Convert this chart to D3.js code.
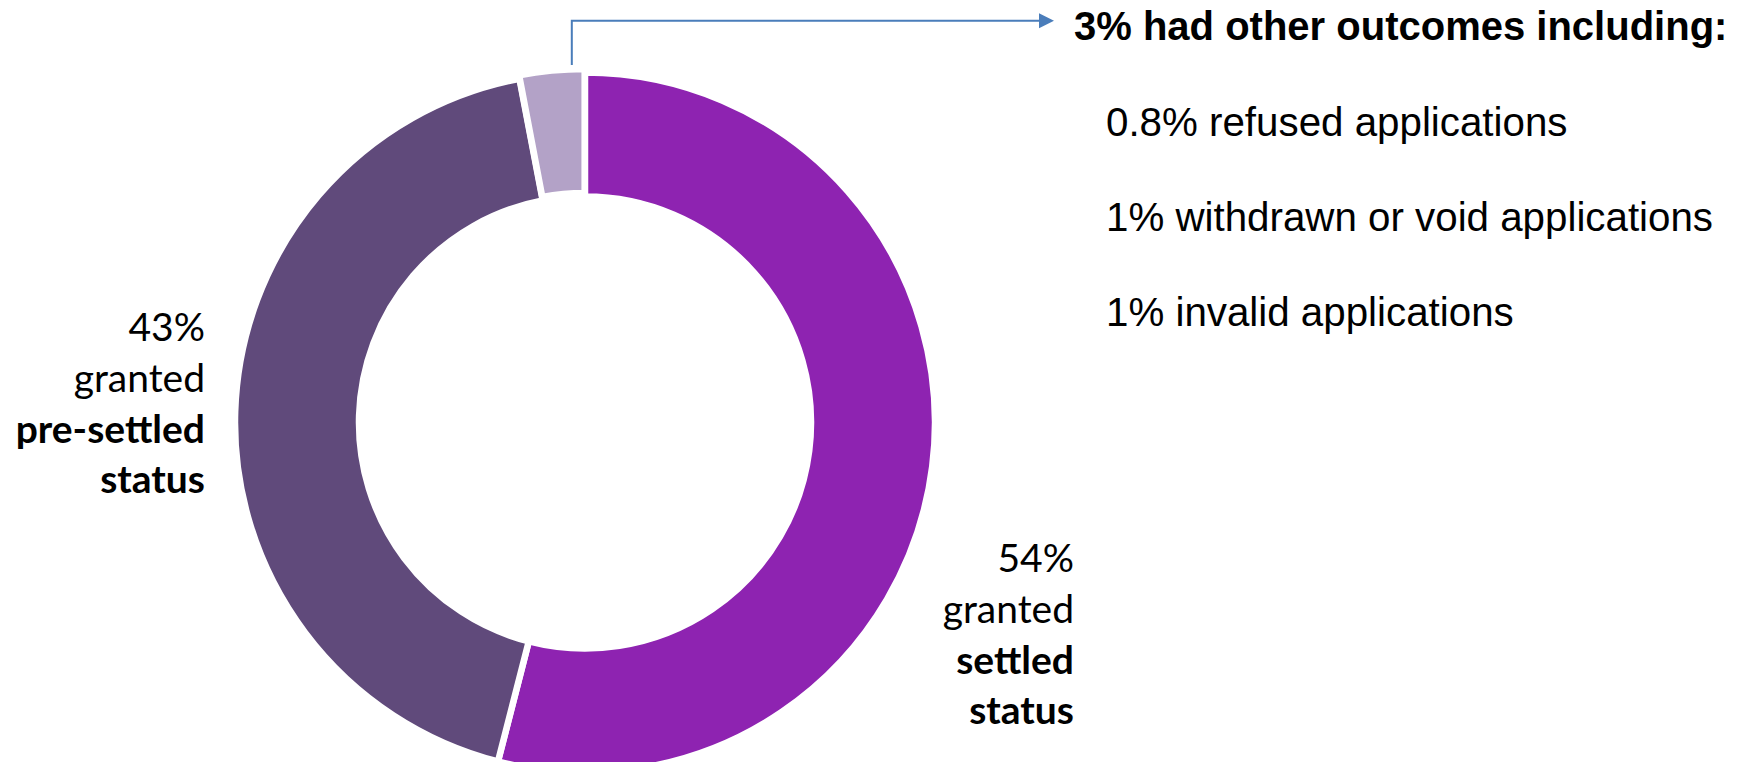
<!DOCTYPE html>
<html>
<head>
<meta charset="utf-8">
<script src="https://cdnjs.cloudflare.com/ajax/libs/d3/7.8.5/d3.min.js"></script>
<style>
  body { margin: 0; background: #fff; }
  svg { display: block; }
</style>
</head>
<body>
<div id="chart"></div>
<script>
// Data
let outcomes = ["settled", "pre-settled", "other"];
let shares = [54, 43, 3];
let otherShares = ["0.8%", "1%", "1%"];
let otherLabels = ["refused applications", "withdrawn or void applications", "invalid applications"];
let otherTitle = "had other outcomes including:";

let width = 1742;
let height = 762;

let center = {"x": 585, "y": 422.5};
let outerR = 350;
let innerR = 226;

let svg = d3.select("#chart")
            .append("svg")
            .attr("width", width)
            .attr("height", height);

let colorScale = d3.scaleOrdinal()
                   .domain(outcomes)
                   .range(["#8E23B1", "#604A7B", "#B3A2C7"]);

let pie = d3.pie()
            .sort(null)
            .value(d => d.value);

let arc = d3.arc()
            .innerRadius(innerR)
            .outerRadius(outerR);

let slices = pie(outcomes.map((k, i) => ({"key": k, "value": shares[i]})));

let donut = svg.append("g")
               .attr("transform", `translate(${center.x},${center.y})`);

// small slice is pulled out a few pixels
let explode = d => d.data.key == "other" ? 3.5 : 0;

donut.selectAll("path")
     .data(slices)
     .enter()
     .append("path")
     .attr("d", arc)
     .attr("transform", d => {
        let mid = (d.startAngle + d.endAngle) / 2;
        return `translate(${Math.sin(mid) * explode(d)},${-Math.cos(mid) * explode(d)})`;
     })
     .style("fill", d => colorScale(d.data.key))
     .style("stroke", "#fff")
     .style("stroke-width", 6.5);

// Slice labels
let labelFont = "Lato, 'Open Sans', sans-serif";
let lineGap = 50.8;

function addLabel(x, y, lines) {
  let t = svg.append("text")
             .attr("text-anchor", "end")
             .style("font-family", labelFont)
             .style("font-size", "39px")
             .style("fill", "#000");
  lines.forEach((l, i) => {
    t.append("tspan")
     .attr("x", x)
     .attr("y", y + i * lineGap)
     .style("font-weight", l.bold ? "bold" : "normal")
     .text(l.text);
  });
}

addLabel(205, 341, [
  {"text": shares[1] + "%"},
  {"text": "granted"},
  {"text": "pre-settled", "bold": true},
  {"text": "status", "bold": true}
]);

addLabel(1074, 572, [
  {"text": shares[0] + "%"},
  {"text": "granted"},
  {"text": "settled", "bold": true},
  {"text": "status", "bold": true}
]);

// Connector from the small slice to the note
let other = slices[2];
let anchorAngle = other.endAngle - 0.2 * (other.endAngle - other.startAngle);
let lineX = center.x + Math.sin(anchorAngle) * outerR;
let lineY = 20.7;
let arrowEnd = 1054;
let arrowColor = "#4A7DBA";

svg.append("path")
   .attr("d", `M${lineX},65 V${lineY} H${arrowEnd - 12}`)
   .style("fill", "none")
   .style("stroke", arrowColor)
   .style("stroke-width", 2);

svg.append("path")
   .attr("d", `M${arrowEnd - 15},${lineY - 7.5} L${arrowEnd},${lineY} L${arrowEnd - 15},${lineY + 7.5} Z`)
   .style("fill", arrowColor);

// Note on the other outcomes
svg.append("text")
   .attr("x", 1074)
   .attr("y", 39.5)
   .style("font-family", "'Liberation Sans', Arial, sans-serif")
   .style("font-weight", "bold")
   .style("font-size", "40px")
   .style("fill", "#000")
   .text(`${shares[2]}% ${otherTitle}`);

svg.append("g")
   .selectAll("text")
   .data(otherLabels)
   .enter()
   .append("text")
   .attr("x", 1106)
   .attr("y", (d, i) => 136 + i * 95)
   .style("font-family", "'Liberation Sans', Arial, sans-serif")
   .style("font-size", "40.3px")
   .style("fill", "#000")
   .text((d, i) => `${otherShares[i]} ${d}`);
</script>
</body>
</html>
